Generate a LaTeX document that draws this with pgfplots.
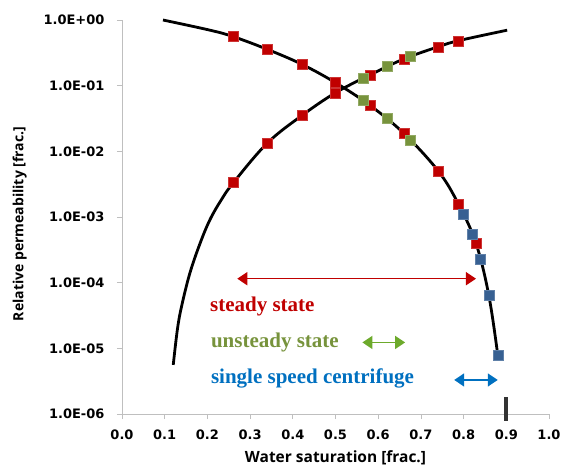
\documentclass[border=0pt]{standalone}
\usepackage{fontspec}
\usepackage{pgfplots}
\pgfplotsset{compat=1.18}
\usetikzlibrary{arrows.meta}
\newfontfamily\tickfont{DejaVu Sans}[BoldFont={DejaVu Sans Bold}]
\newfontfamily\labfont{Open Sans}[BoldFont={Open Sans Bold}]
\newfontfamily\annfont{Liberation Serif}[BoldFont={Liberation Serif Bold}]
\definecolor{ssred}{HTML}{C00000}
\definecolor{usgreen}{HTML}{77933C}
\definecolor{usgreenarr}{HTML}{6DAA2C}
\definecolor{cfblue}{HTML}{376092}
\definecolor{cfbluet}{HTML}{0070C0}
\definecolor{axgray}{HTML}{BFBFBF}
\begin{document}
\begin{tikzpicture}
\useasboundingbox (-122pt,-53pt) rectangle (445pt,414pt);
\begin{axis}[
  at={(0,0)}, anchor=south west,
  scale only axis, width=427pt, height=394pt,
  ymode=log, xmin=0, xmax=1, ymin=1e-6, ymax=1,
  clip=false,
  axis x line*=bottom, axis y line*=left,
  axis line style={axgray, line width=0.8pt},
  tick style={axgray, line width=0.8pt},
  tick align=outside, major tick length=5pt,
  yminorticks=false,
  xtick={0,0.1,0.2,0.3,0.4,0.5,0.6,0.7,0.8,0.9,1.0},
  xticklabels={0.0,0.1,0.2,0.3,0.4,0.5,0.6,0.7,0.8,0.9,1.0},
  ytick={1e-6,1e-5,1e-4,1e-3,1e-2,1e-1,1},
  yticklabels={1.0E-06,1.0E-05,1.0E-04,1.0E-03,1.0E-02,1.0E-01,1.0E+00},
  ticklabel style={font=\tickfont\bfseries\fontsize{13}{15}\selectfont, text=black},
  xticklabel style={yshift=-7pt},
  yticklabel style={xshift=-9pt},
  xlabel={Water saturation [frac.]},
  ylabel={Relative permeability [frac.]},
  xlabel style={font=\labfont\bfseries\fontsize{15.5}{18}\selectfont, yshift=-4pt},
  ylabel style={font=\labfont\bfseries\fontsize{14}{17}\selectfont, yshift=10pt, xshift=-7pt},
]
% curves
\addplot[black, line width=2.8pt, smooth, tension=0.6] coordinates {
(0.096,1.0) (0.206,0.70) (0.261,0.557) (0.340,0.358) (0.421,0.212) (0.500,0.111)
(0.581,0.050) (0.660,0.0188) (0.741,0.00498) (0.788,0.00157) (0.829,3.98e-4)
(0.859,6.45e-5) (0.880,7.9e-6)};
\addplot[black, line width=2.8pt, smooth, tension=0.6] coordinates {
(0.120,5.6e-6) (0.130,2.0e-5) (0.140,4.5e-5) (0.159,1.4e-4) (0.183,4.0e-4) (0.206,9.1e-4)
(0.232,1.8e-3) (0.261,3.34e-3) (0.340,0.0133) (0.421,0.035) (0.500,0.078) (0.581,0.146)
(0.660,0.255) (0.741,0.392) (0.788,0.484) (0.902,0.70)};
% steady state markers
\addplot[only marks, mark=square*, mark size=5pt, mark options={fill=ssred, draw=ssred!80!white, line width=0.4pt}] coordinates {
(0.261,0.557) (0.340,0.358) (0.421,0.212) (0.500,0.111) (0.581,0.050) (0.660,0.0188)
(0.741,0.00498) (0.788,0.00157) (0.829,3.98e-4)
(0.261,3.34e-3) (0.340,0.0133) (0.421,0.035) (0.500,0.078) (0.581,0.146) (0.660,0.255)
(0.741,0.392) (0.788,0.484)};
% unsteady state markers
\addplot[only marks, mark=square*, mark size=5pt, mark options={fill=usgreen, draw=usgreen!80!white, line width=0.4pt}] coordinates {
(0.565,0.0605) (0.620,0.0319) (0.676,0.0149)
(0.565,0.129) (0.620,0.195) (0.676,0.277)};
% centrifuge markers
\addplot[only marks, mark=square*, mark size=5pt, mark options={fill=cfblue, draw=cfblue!80!white, line width=0.4pt}] coordinates {
(0.799,0.0011) (0.819,5.47e-4) (0.840,2.28e-4) (0.859,6.45e-5) (0.880,7.9e-6)};
% arrows
\addplot[ssred, line width=1.6pt, {Triangle[length=10pt,width=13pt]}-{Triangle[length=10pt,width=13pt]}] coordinates {(0.270,1.15e-4) (0.829,1.15e-4)};
\addplot[usgreenarr, line width=1.6pt, {Triangle[length=10pt,width=13pt]}-{Triangle[length=10pt,width=13pt]}] coordinates {(0.563,1.23e-5) (0.663,1.23e-5)};
\addplot[cfbluet, line width=1.6pt, {Triangle[length=10pt,width=13pt]}-{Triangle[length=10pt,width=13pt]}] coordinates {(0.778,3.3e-6) (0.880,3.3e-6)};
% bar at 0.9
\addplot[draw=black!80, line width=4pt] coordinates {(0.9,1.8e-6) (0.9,7.9e-7)};
% texts
\node[anchor=west, inner sep=0pt, text=ssred, font=\annfont\bfseries\fontsize{21}{24}\selectfont] at (axis cs:0.206,4.3e-5) {steady state};
\node[anchor=west, inner sep=0pt, text=usgreen, font=\annfont\bfseries\fontsize{21}{24}\selectfont] at (axis cs:0.208,1.21e-5) {unsteady state};
\node[anchor=west, inner sep=0pt, text=cfbluet, font=\annfont\bfseries\fontsize{21}{24}\selectfont] at (axis cs:0.208,3.43e-6) {single speed centrifuge};
\end{axis}
\end{tikzpicture}
\end{document}
